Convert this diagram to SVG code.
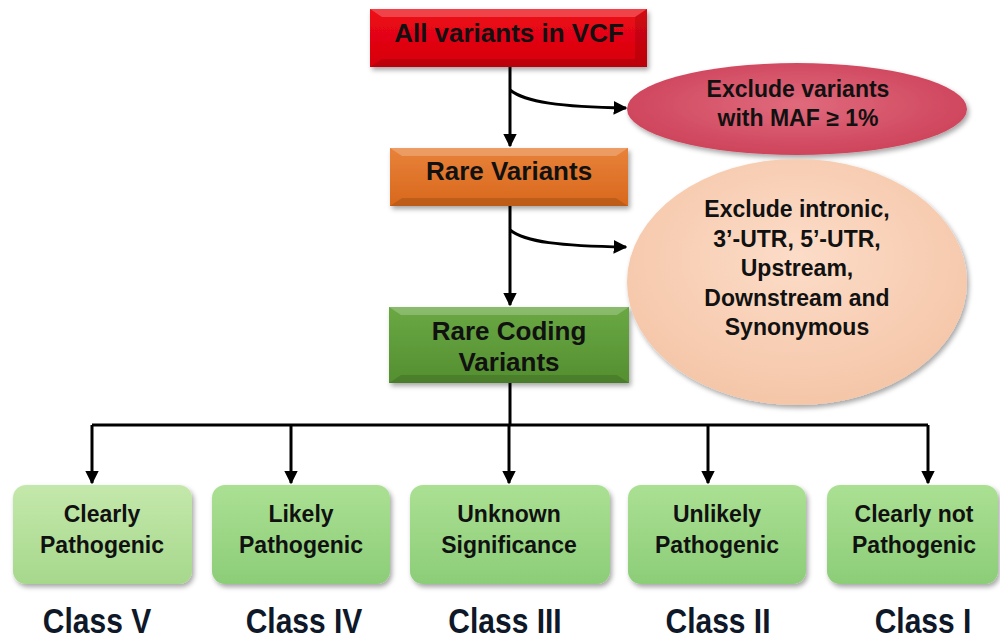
<svg xmlns="http://www.w3.org/2000/svg" width="1000" height="639" viewBox="0 0 1000 639">
<defs>
<style>
.t{font-family:"Liberation Sans",Arial,sans-serif;font-weight:bold;fill:#111;text-anchor:middle}
.c{font-family:"Liberation Sans",Arial,sans-serif;font-weight:bold;fill:#0f1828;text-anchor:middle;font-size:30px}
.ln{fill:none;stroke:#000;stroke-width:3}
.hi{fill:#fff;opacity:0.22}
.lo{fill:#000;opacity:0.12}
</style>
<marker id="ah" viewBox="0 0 10 10" refX="9" refY="5" markerWidth="4.6" markerHeight="4.6" orient="auto" markerUnits="strokeWidth">
<path d="M0,0 L10,5 L0,10 Z" fill="#000"/>
</marker>
<filter id="sh" x="-10%" y="-10%" width="125%" height="135%">
<feDropShadow dx="2" dy="3" stdDeviation="2.5" flood-color="#000" flood-opacity="0.35"/>
</filter>
<linearGradient id="gRed" x1="0" y1="0" x2="0" y2="1"><stop offset="0" stop-color="#ee0a16"/><stop offset="1" stop-color="#d6000e"/></linearGradient>
<linearGradient id="gOr" x1="0" y1="0" x2="0" y2="1"><stop offset="0" stop-color="#e8823a"/><stop offset="1" stop-color="#d8681c"/></linearGradient>
<linearGradient id="gGr" x1="0" y1="0" x2="0" y2="1"><stop offset="0" stop-color="#6aa844"/><stop offset="1" stop-color="#548f30"/></linearGradient>
<linearGradient id="gL1" x1="0" y1="0" x2="0" y2="1"><stop offset="0" stop-color="#c4e8ab"/><stop offset="1" stop-color="#a6d88c"/></linearGradient>
<linearGradient id="gL2" x1="0" y1="0" x2="0" y2="1"><stop offset="0" stop-color="#abe093"/><stop offset="1" stop-color="#8ccd78"/></linearGradient>
<radialGradient id="gE1" cx="0.5" cy="0.45" r="0.6"><stop offset="0" stop-color="#e06a7c"/><stop offset="1" stop-color="#cc4058"/></radialGradient>
<radialGradient id="gE2" cx="0.5" cy="0.4" r="0.6"><stop offset="0" stop-color="#fcdcc8"/><stop offset="1" stop-color="#f5c6a8"/></radialGradient>
</defs>

<g id="connectors">
<path class="ln" d="M510,67 L510,146" marker-end="url(#ah)"/>
<path class="ln" d="M510,90 C525,102 560,107 626,108" marker-end="url(#ah)"/>
<path class="ln" d="M510,206 L510,305" marker-end="url(#ah)"/>
<path class="ln" d="M510,230 C525,242 560,246 626,247" marker-end="url(#ah)"/>
<path class="ln" d="M510,383 L510,425 M92,425 L928,425"/>
<path class="ln" d="M92,425 L92,483" marker-end="url(#ah)"/>
<path class="ln" d="M291,425 L291,483" marker-end="url(#ah)"/>
<path class="ln" d="M509,425 L509,483" marker-end="url(#ah)"/>
<path class="ln" d="M708,425 L708,483" marker-end="url(#ah)"/>
<path class="ln" d="M928,425 L928,483" marker-end="url(#ah)"/>
</g>

<g id="node-all">
<rect x="370" y="9" width="277" height="58" fill="url(#gRed)" filter="url(#sh)"/>
<polygon class="hi" points="370,9 647,9 635,17 382,17"/>
<polygon class="lo" points="370,67 647,67 635,59 382,59"/>
<polygon class="lo" points="647,9 647,67 635,59 635,17" opacity="0.06"/>
<text class="t" x="509" y="42" font-size="26">All variants in VCF</text>
</g>

<g id="node-rare">
<rect x="390" y="148" width="238" height="58" fill="url(#gOr)" filter="url(#sh)"/>
<polygon class="hi" points="390,148 628,148 616,156 402,156"/>
<polygon class="lo" points="390,206 628,206 616,198 402,198"/>
<text class="t" x="509" y="180" font-size="26">Rare Variants</text>
</g>

<g id="node-coding">
<rect x="389" y="307" width="240" height="76" fill="url(#gGr)" filter="url(#sh)"/>
<polygon class="hi" points="389,307 629,307 617,315 401,315"/>
<polygon class="lo" points="389,383 629,383 617,375 401,375"/>
<text class="t" x="509" y="340" font-size="26">Rare Coding</text>
<text class="t" x="509" y="371" font-size="26">Variants</text>
</g>

<g id="node-maf">
<ellipse cx="797" cy="109" rx="170" ry="46" fill="url(#gE1)" filter="url(#sh)"/>
<text class="t" x="798" y="97" font-size="23">Exclude variants</text>
<text class="t" x="798" y="126" font-size="23">with MAF ≥ 1%</text>
</g>

<g id="node-exclude">
<ellipse cx="797" cy="282" rx="170" ry="123" fill="url(#gE2)" filter="url(#sh)"/>
<text class="t" x="797" y="217" font-size="23">Exclude intronic,</text>
<text class="t" x="797" y="247" font-size="23">3’-UTR, 5’-UTR,</text>
<text class="t" x="797" y="276" font-size="23">Upstream,</text>
<text class="t" x="797" y="306" font-size="23">Downstream and</text>
<text class="t" x="797" y="335" font-size="23">Synonymous</text>
</g>

<g id="node-c5">
<rect x="13" y="485" width="179" height="99" rx="13" fill="url(#gL1)" filter="url(#sh)"/>
<text class="t" x="102" y="522" font-size="23">Clearly</text>
<text class="t" x="102" y="553" font-size="23">Pathogenic</text>
<text class="c" transform="translate(97,633) scale(1,1.15)">Class V</text>
</g>

<g id="node-c4">
<rect x="212" y="485" width="178" height="99" rx="13" fill="url(#gL2)" filter="url(#sh)"/>
<text class="t" x="301" y="522" font-size="23">Likely</text>
<text class="t" x="301" y="553" font-size="23">Pathogenic</text>
<text class="c" transform="translate(304,633) scale(1,1.15)">Class IV</text>
</g>

<g id="node-c3">
<rect x="410" y="485" width="200" height="99" rx="13" fill="url(#gL2)" filter="url(#sh)"/>
<text class="t" x="509" y="522" font-size="23">Unknown</text>
<text class="t" x="509" y="553" font-size="23">Significance</text>
<text class="c" transform="translate(505,633) scale(1,1.15)">Class III</text>
</g>

<g id="node-c2">
<rect x="628" y="485" width="178" height="99" rx="13" fill="url(#gL2)" filter="url(#sh)"/>
<text class="t" x="717" y="522" font-size="23">Unlikely</text>
<text class="t" x="717" y="553" font-size="23">Pathogenic</text>
<text class="c" transform="translate(718,633) scale(1,1.15)">Class II</text>
</g>

<g id="node-c1">
<rect x="827" y="485" width="171" height="99" rx="13" fill="url(#gL2)" filter="url(#sh)"/>
<text class="t" x="914" y="522" font-size="23">Clearly not</text>
<text class="t" x="914" y="553" font-size="23">Pathogenic</text>
<text class="c" transform="translate(923,633) scale(1,1.15)">Class I</text>
</g>
</svg>
